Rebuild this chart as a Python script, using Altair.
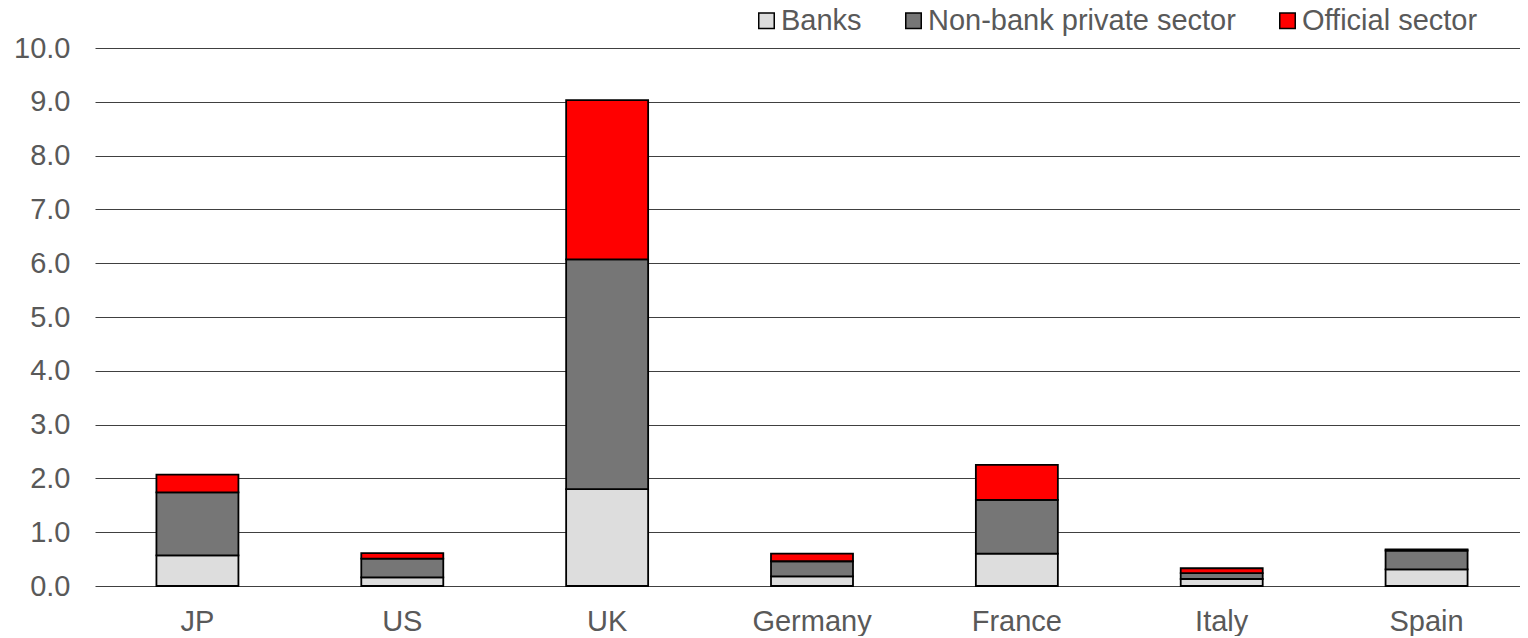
import altair as alt
import pandas as pd

countries = ["JP", "US", "UK", "Germany", "France", "Italy", "Spain"]
sectors = ["Banks", "Non-bank private sector", "Official sector"]
banks = [0.57, 0.16, 1.80, 0.18, 0.60, 0.13, 0.31]
nonbank = [1.17, 0.35, 4.27, 0.28, 1.00, 0.11, 0.35]
official = [0.33, 0.10, 2.96, 0.14, 0.65, 0.09, 0.02]
colors = ["#DDDDDD", "#767676", "#FF0000"]

rows = []
for i, c in enumerate(countries):
    for k, (s, vals) in enumerate(zip(sectors, [banks, nonbank, official])):
        rows.append({"country": c, "sector": s, "value": vals[i], "order": k})
df = pd.DataFrame(rows)

FONT = "Liberation Sans"
chart = alt.Chart(df).mark_bar(stroke="black", strokeWidth=1.8, size=82).encode(
    x=alt.X("country:N", sort=countries, title=None,
            scale=alt.Scale(paddingInner=0.0, paddingOuter=0.0, range=[0, 1434]),
            axis=alt.Axis(labelAngle=0, labelFontSize=29, labelColor="#595959",
                          labelFont=FONT, domain=False, ticks=False,
                          labelPadding=21, grid=False)),
    y=alt.Y("value:Q", stack="zero", title=None,
            scale=alt.Scale(domain=[0, 10], nice=False),
            axis=alt.Axis(values=[0, 1, 2, 3, 4, 5, 6, 7, 8, 9, 10], format=".1f",
                          labelFontSize=29, labelColor="#595959", labelFont=FONT,
                          domain=False, ticks=False, labelPadding=25,
                          gridColor="#000000", gridWidth=1, gridOpacity=0.75)),
    color=alt.Color("sector:N", sort=sectors,
                    scale=alt.Scale(domain=sectors, range=colors),
                    legend=alt.Legend(title=None, orient="none", legendX=657, legendY=-42,
                                      direction="horizontal", symbolType="square",
                                      symbolSize=240, symbolStrokeColor="black",
                                      symbolStrokeWidth=1.5, labelFontSize=29,
                                      labelColor="#595959", labelFont=FONT, labelLimit=0,
                                      columnPadding=37, symbolOffset=0, labelOffset=0)),
    order=alt.Order("order:Q", sort="ascending"),
).properties(
    width=1425, height=538,
    autosize=alt.AutoSizeParams(type="none"),
    padding={"left": 87, "top": 40, "right": 0, "bottom": 50},
).configure_view(stroke=None)

chart.save("out.html", embed_options={"renderer": "svg", "actions": False})
